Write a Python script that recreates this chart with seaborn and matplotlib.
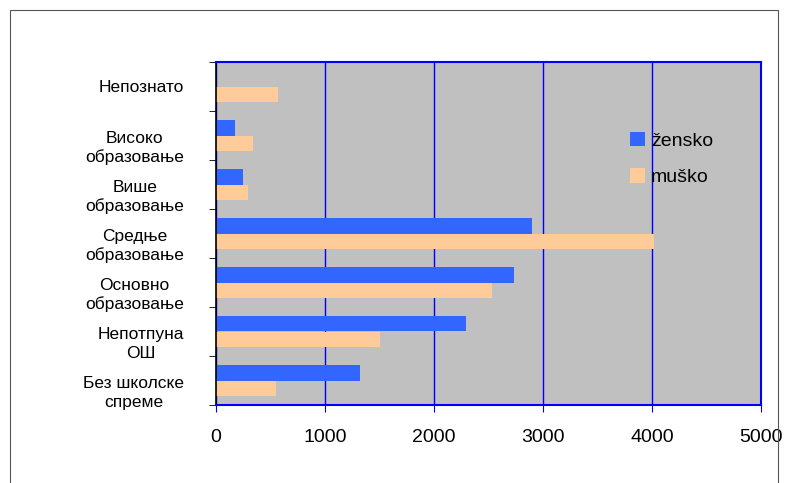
import pandas as pd
import seaborn as sns
import matplotlib.pyplot as plt
from matplotlib.patches import Rectangle, Patch
from matplotlib.transforms import ScaledTranslation

categories = ["Непознато", "Високо\nобразовање", "Више\nобразовање", "Средње\nобразовање",
              "Основно\nобразовање", "Непотпуна\nОШ", "Без школске\nспреме"]
zensko = [0, 170, 245, 2900, 2730, 2295, 1325]
musko = [570, 335, 290, 4020, 2535, 1500, 555]
series = ["žensko", "muško"]
colors = ["#3366FF", "#FFCC99"]

df = pd.DataFrame({
    "cat": categories * 2,
    "val": zensko + musko,
    "pol": [series[0]] * len(categories) + [series[1]] * len(categories),
})

plt.rcParams["font.family"] = ["Liberation Sans", "DejaVu Sans"]
fig = plt.figure(figsize=(7.85, 4.83), dpi=100)
fig.patches.append(Rectangle((10 / 785, -0.1), 768 / 785, 1.1 - 10 / 483, transform=fig.transFigure,
                             fill=False, edgecolor="#555555", linewidth=0.8))
ax = fig.add_axes([216 / 785, 78 / 483, 545 / 785, 343 / 483])
ax.set_facecolor("#C0C0C0")

sns.barplot(data=df, x="val", y="cat", hue="pol", hue_order=series, palette=colors,
            order=categories, orient="h", width=0.62, saturation=1, legend=False, ax=ax)

ax.set_xlim(0, 5000)
ax.set_xticks([0, 1000, 2000, 3000, 4000, 5000])
ax.set_ylim(6.5, -0.5)
ax.set_xlabel("")
ax.set_ylabel("")
ax.xaxis.grid(True, color="#0000FF", linewidth=1)
ax.set_axisbelow(True)
for s in ["top", "right", "bottom"]:
    ax.spines[s].set_color("#0000FF")
    ax.spines[s].set_linewidth(1.5)
ax.spines["left"].set_color("black")
ax.spines["left"].set_linewidth(1.2)

ax.tick_params(axis="x", colors="#0000FF", length=5, pad=12, labelsize=14, labelcolor="black")
ax.tick_params(axis="y", which="major", length=0, pad=23, labelsize=12.5)
ax.set_yticks([i - 0.5 for i in range(len(categories) + 1)], minor=True)
ax.tick_params(axis="y", which="minor", length=5, color="black")
# wrapped labels sit with their first line on the category centre
for lab in ax.get_yticklabels():
    lab.set_multialignment("center")
    lab.set_linespacing(1.3)
    if "\n" in lab.get_text():
        lab.set_transform(lab.get_transform() + ScaledTranslation(0, -9 / 100, fig.dpi_scale_trans))

handles = [Patch(facecolor=c, label=s) for c, s in zip(colors, series)]
fig.legend(handles=handles, loc="upper left", bbox_to_anchor=(612 / 785, 1 - 114 / 483),
           frameon=False, fontsize=14, handlelength=0.8, handleheight=0.8,
           handletextpad=0.3, labelspacing=0.95)

fig.savefig("out.png", dpi=100)
